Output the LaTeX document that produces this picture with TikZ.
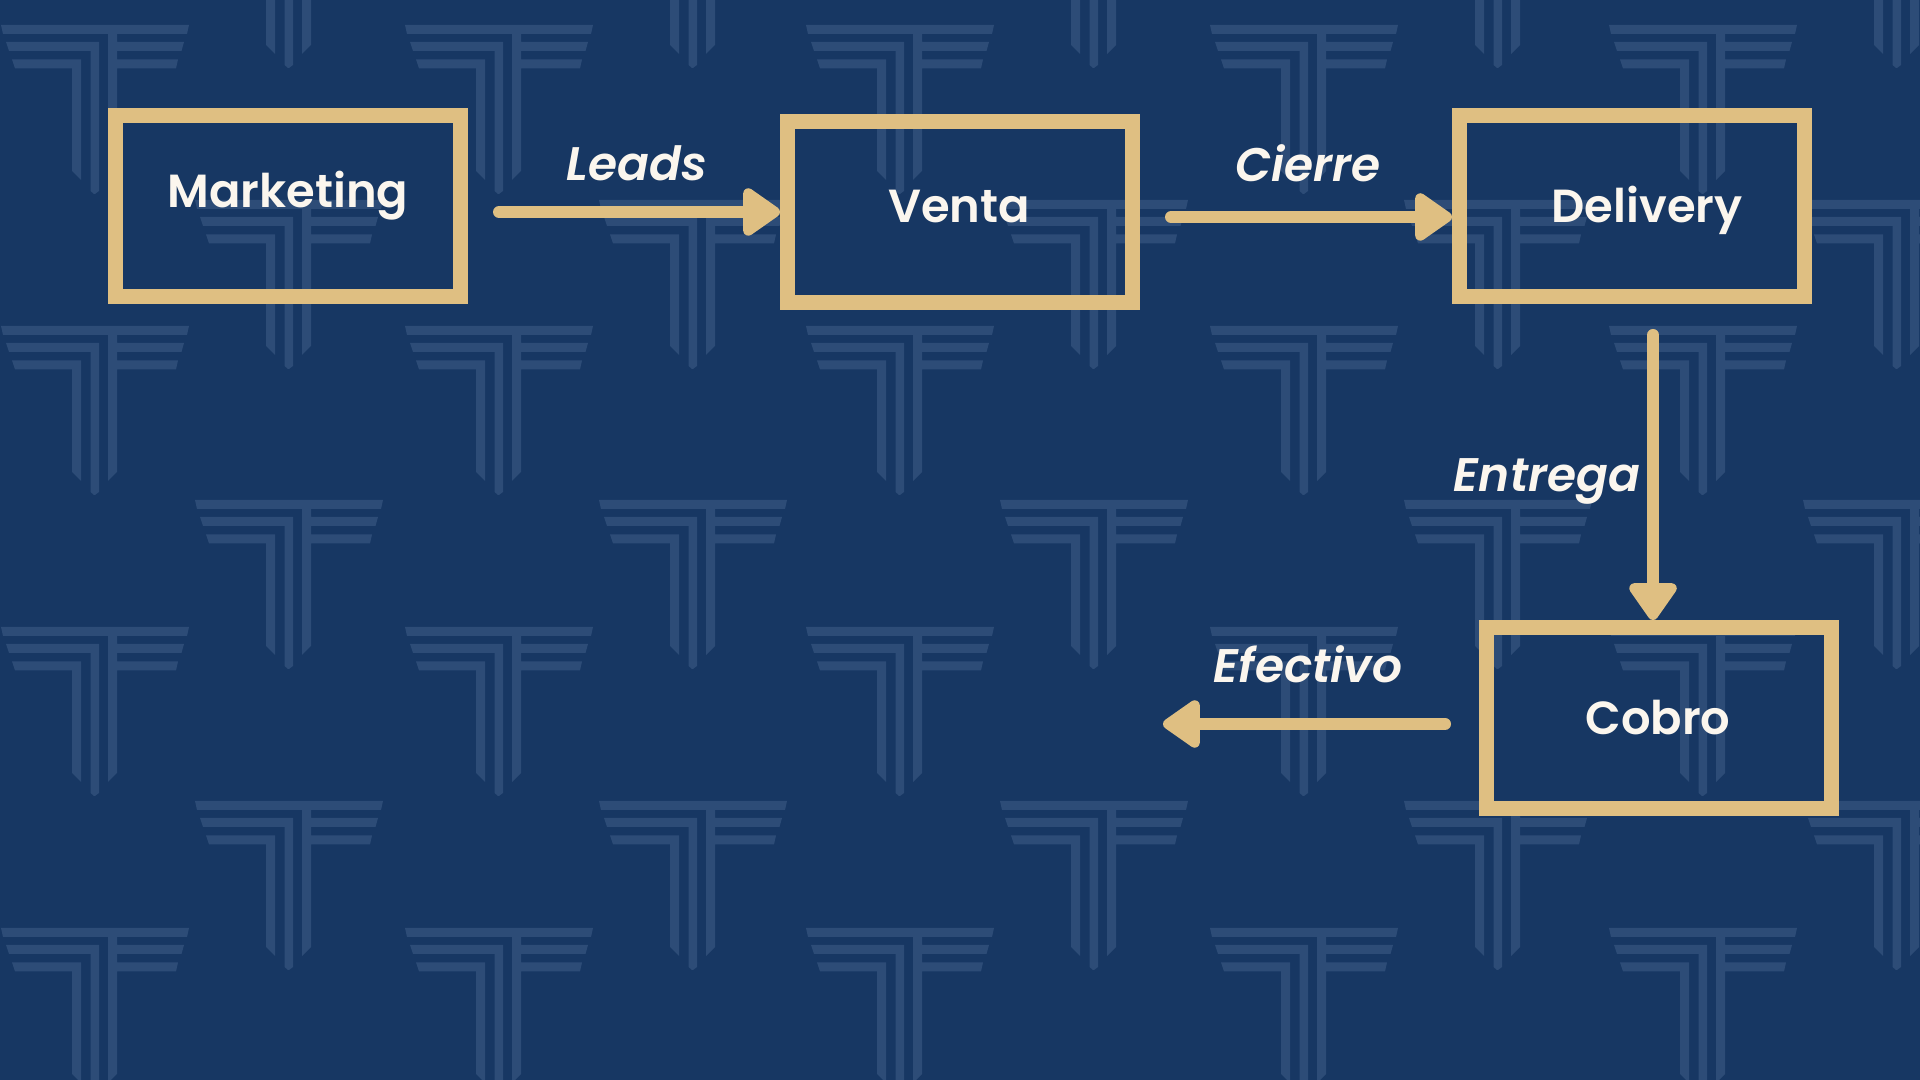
\documentclass[tikz,border=0pt]{standalone}
\usepackage{fontspec}
\setmainfont{Poppins}[BoldFont={Poppins SemiBold},BoldItalicFont={Poppins SemiBold Italic}]
\usetikzlibrary{arrows.meta}
\definecolor{fondo}{HTML}{173763}
\definecolor{marca}{HTML}{2D4C77}
\definecolor{oro}{HTML}{DFBF82}
\definecolor{crema}{HTML}{FBF6EE}
\tikzset{
    caja/.style={draw=oro,line width=1.5mm,minimum width=3.45cm,minimum height=1.81cm},
    rotulo/.style={text=crema,font=\fontsize{13.2pt}{16pt}\selectfont\bfseries,anchor=base},
    etiqueta/.style={text=crema,font=\fontsize{13.4pt}{16pt}\selectfont\bfseries\itshape,anchor=base},
    flecha/.style={draw=oro,line width=1.2mm,line cap=round,
        -{Triangle[length=4.1mm,width=5.4mm,round,fill=oro]}},
    logo/.pic={
        \fill[marca]
            (0,0) -- (1.88,0) -- (1.86,-.09) -- (.02,-.09) -- cycle
            (.05,-.17) -- (.98,-.17) -- (.98,-1.66) -- (.94,-1.69) -- (.93,-1.69) -- (.895,-1.66) -- (.895,-.26) -- (.08,-.26) -- cycle
            (.11,-.345) -- (.8,-.345) -- (.8,-1.55) -- (.71,-1.46) -- (.71,-.435) -- (.14,-.435) -- cycle
            (1.07,-.09) -- (1.16,-.09) -- (1.16,-1.46) -- (1.07,-1.55) -- cycle
            (1.16,-.17) -- (1.83,-.17) -- (1.805,-.26) -- (1.16,-.26) -- cycle
            (1.16,-.345) -- (1.77,-.345) -- (1.75,-.435) -- (1.16,-.435) -- cycle
        ;
    }
}
\begin{document}
\begin{tikzpicture}
    \useasboundingbox (0,0) rectangle (19.2,10.8);
    \fill[fondo] (0,0) rectangle (19.2,10.8);

    % fondo de marcas
    \begin{scope}
        \clip (0,0) rectangle (19.2,10.8);
        \foreach \y in {10.55,7.54,4.53,1.52}
            \foreach \x in {0.01,4.05,8.06,12.10,16.09}
                \pic at (\x,\y) {logo};
        \foreach \y in {11.81,8.80,5.80,2.79}
            \foreach \x in {1.95,5.99,10.00,14.04,18.03}
                \pic at (\x,\y) {logo};
    \end{scope}

    % cajas
    \node[caja] (marketing) at (2.88,8.74) {};
    \node[caja] (venta) at (9.60,8.68) {};
    \node[caja] (delivery) at (16.32,8.74) {};
    \node[caja] (cobro) at (16.59,3.62) {};

    \node[rotulo] (marketingtxt) at (2.88,8.72) {Marketing};
    \node[rotulo] (ventatxt) at (9.59,8.57) {Venta};
    \node[rotulo] (deliverytxt) at (16.47,8.57) {Delivery};
    \node[rotulo] (cobrotxt) at (16.58,3.45) {Cobro};

    % flechas
    \coordinate (leadsini) at (4.99,8.68);
    \coordinate (cierreini) at (11.71,8.63);
    \coordinate (entregaini) at (16.53,7.45);
    \coordinate (efectivoini) at (14.45,3.56);
    \coordinate (efectivofin) at (11.63,3.56);
    \draw[flecha] (leadsini) -- (venta.west);
    \draw[flecha] (cierreini) -- (delivery.west |- cierreini);
    \draw[flecha] (entregaini) -- (cobro.north -| entregaini);
    \draw[flecha] (efectivoini) -- (efectivofin);

    \node[etiqueta] (leads) at (6.37,8.995) {Leads};
    \node[etiqueta] (cierre) at (13.08,8.985) {Cierre};
    \node[etiqueta] (entrega) at (15.47,5.885) {Entrega};
    \node[etiqueta] (efectivo) at (13.08,3.975) {Efectivo};
\end{tikzpicture}
\end{document}
